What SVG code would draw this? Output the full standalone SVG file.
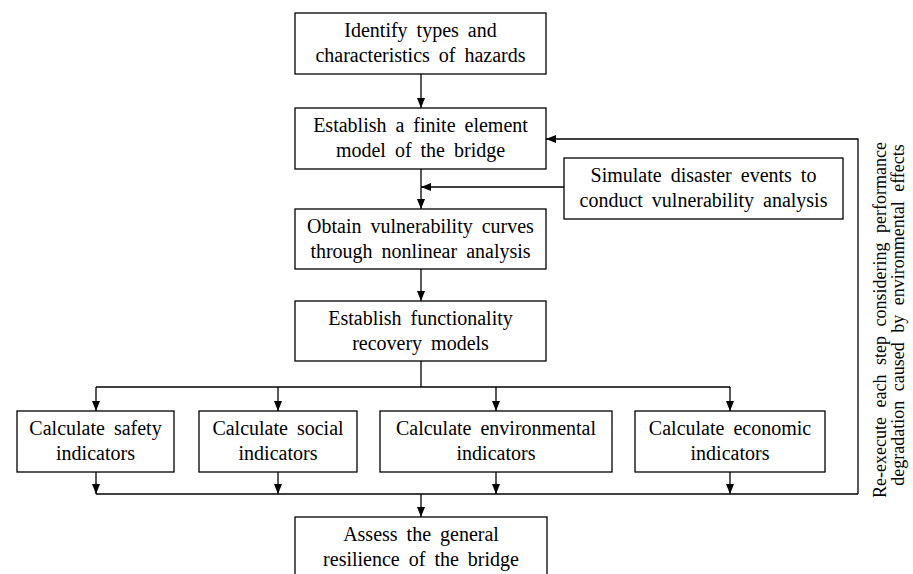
<svg xmlns="http://www.w3.org/2000/svg" width="913" height="574" viewBox="0 0 913 574">
<defs>
<style>
.box{fill:#fff;stroke:#000;stroke-width:1.3}
.t{font-family:"Liberation Serif","Times New Roman",serif;font-size:20px;fill:#000;text-anchor:middle;word-spacing:4px}
.v{font-family:"Liberation Serif","Times New Roman",serif;font-size:18px;fill:#000;text-anchor:middle;word-spacing:5px}
.c{fill:none;stroke:#000;stroke-width:1.3}
</style>
<marker id="ah" viewBox="0 0 10 8" refX="10" refY="4" markerWidth="10" markerHeight="8" markerUnits="userSpaceOnUse" orient="auto">
<path d="M0,0 L10,4 L0,8 Z" fill="#000"/>
</marker>
</defs>
<rect width="913" height="574" fill="#fff"/>
<g id="connectors">
<line class="c" x1="421" y1="74" x2="421" y2="108" marker-end="url(#ah)"/>
<line class="c" x1="421" y1="169" x2="421" y2="209" marker-end="url(#ah)"/>
<line class="c" x1="564" y1="187" x2="421" y2="187" marker-end="url(#ah)"/>
<line class="c" x1="421" y1="269" x2="421" y2="301" marker-end="url(#ah)"/>
<polyline class="c" points="421,361 421,387"/>
<polyline class="c" points="96,387 730,387"/>
<line class="c" x1="96" y1="387" x2="96" y2="411" marker-end="url(#ah)"/>
<line class="c" x1="278" y1="387" x2="278" y2="411" marker-end="url(#ah)"/>
<line class="c" x1="496" y1="387" x2="496" y2="411" marker-end="url(#ah)"/>
<line class="c" x1="730" y1="387" x2="730" y2="411" marker-end="url(#ah)"/>
<line class="c" x1="96" y1="472" x2="96" y2="494" marker-end="url(#ah)"/>
<line class="c" x1="278" y1="472" x2="278" y2="494" marker-end="url(#ah)"/>
<line class="c" x1="496" y1="472" x2="496" y2="494" marker-end="url(#ah)"/>
<line class="c" x1="730" y1="472" x2="730" y2="494" marker-end="url(#ah)"/>
<polyline class="c" points="96,494 858,494"/>
<line class="c" x1="421" y1="494" x2="421" y2="517" marker-end="url(#ah)"/>
<polyline class="c" points="858,494 858,139 546,139" marker-end="url(#ah)"/>
</g>
<g id="n1"><rect class="box" x="295" y="13" width="251" height="61"/><text class="t" x="420.5" y="37">Identify types and</text><text class="t" x="420.5" y="62">characteristics of hazards</text></g>
<g id="n2"><rect class="box" x="295" y="108" width="251" height="61"/><text class="t" x="420.5" y="132">Establish a finite element</text><text class="t" x="420.5" y="157">model of the bridge</text></g>
<g id="n3"><rect class="box" x="295" y="209" width="251" height="60"/><text class="t" x="420.5" y="233">Obtain vulnerability curves</text><text class="t" x="420.5" y="258">through nonlinear analysis</text></g>
<g id="n4"><rect class="box" x="295" y="301" width="251" height="60"/><text class="t" x="420.5" y="325">Establish functionality</text><text class="t" x="420.5" y="350">recovery models</text></g>
<g id="n5"><rect class="box" x="564" y="158" width="279" height="61"/><text class="t" x="703.5" y="182">Simulate disaster events to</text><text class="t" x="703.5" y="207">conduct vulnerability analysis</text></g>
<g id="n6"><rect class="box" x="17" y="411" width="157" height="61"/><text class="t" x="95.5" y="435">Calculate safety</text><text class="t" x="95.5" y="460">indicators</text></g>
<g id="n7"><rect class="box" x="199" y="411" width="158" height="61"/><text class="t" x="278" y="435">Calculate social</text><text class="t" x="278" y="460">indicators</text></g>
<g id="n8"><rect class="box" x="380" y="411" width="232" height="61"/><text class="t" x="496" y="435">Calculate environmental</text><text class="t" x="496" y="460">indicators</text></g>
<g id="n9"><rect class="box" x="635" y="411" width="190" height="61"/><text class="t" x="730" y="435">Calculate economic</text><text class="t" x="730" y="460">indicators</text></g>
<g id="n10"><rect class="box" x="295" y="517" width="252" height="70"/><text class="t" x="421" y="541">Assess the general</text><text class="t" x="421" y="566">resilience of the bridge</text></g>
<g id="label"><text class="v" transform="translate(886,320) rotate(-90)">Re-execute each step considering performance</text><text class="v" transform="translate(904,315) rotate(-90)">degradation caused by environmental effects</text></g>
</svg>
